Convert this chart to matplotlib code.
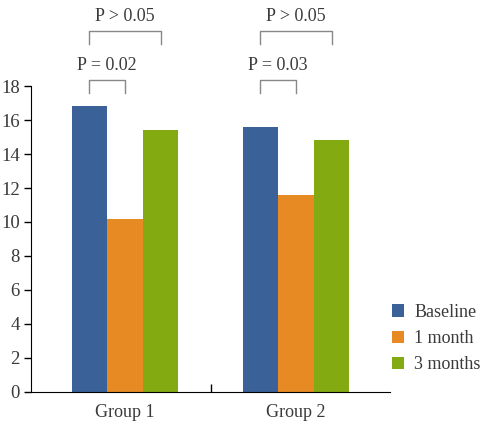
import matplotlib.pyplot as plt
import numpy as np

groups = ['Group 1', 'Group 2']
series = ['Baseline', '1 month', '3 months']
baseline = [16.8, 15.6]
one_month = [10.2, 11.6]
three_months = [15.4, 14.8]
colors = ['#3B6199', '#E88A23', '#84AA12']

# p-value brackets: (group, bar a, bar b, label, level)
brackets = [
    (0, 0, 1, 'P = 0.02', 0),
    (0, 0, 2, 'P > 0.05', 1),
    (1, 0, 1, 'P = 0.03', 0),
    (1, 0, 2, 'P > 0.05', 1),
]

plt.rcParams['font.family'] = ['Liberation Serif', 'DejaVu Serif']
txt = '#3a3a3a'

fig = plt.figure(figsize=(4.84, 4.26), dpi=100)
ax = fig.add_axes([0.064, 0.08, 0.742, 0.718])

x = np.arange(len(groups))
w = 0.208
vals = [baseline, one_month, three_months]
for i, (name, v, c) in enumerate(zip(series, vals, colors)):
    ax.bar(x + (i - 1) * w, v, w, color=c, label=name)

ax.set_ylim(0, 18)
ax.set_xlim(-0.55, 1.55)
ax.set_yticks(np.arange(0, 19, 2))
ax.tick_params(axis='y', direction='out', length=5, width=1, labelsize=13.5, labelcolor=txt, pad=3)
ax.set_xticks([0.5])
ax.set_xticklabels([''])
ax.tick_params(axis='x', which='major', direction='in', length=6, width=1)
ax.set_xticks(x, minor=True)
ax.set_xticklabels(groups, minor=True)
ax.tick_params(axis='x', which='minor', length=0, labelsize=13, labelcolor=txt, pad=9)
for s in ['top', 'right']:
    ax.spines[s].set_visible(False)

for g, a, b, label, lvl in brackets:
    xa = g + (a - 1) * w
    xb = g + (b - 1) * w
    y0 = 17.6 + lvl * 2.9
    y1 = y0 + 0.75
    ax.plot([xa, xa, xb, xb], [y0, y1, y1, y0], color='#888888', lw=1, clip_on=False)
    ax.text((xa + xb) / 2, y1 + 0.85, label, ha='center', va='center', fontsize=13,
            color=txt, clip_on=False)

ax.legend(loc='center left', bbox_to_anchor=(1.005, 0.175), frameon=False, fontsize=13,
          handlelength=0.65, handleheight=0.65, handletextpad=0.6, labelspacing=0.5,
          borderpad=0, borderaxespad=0, labelcolor=txt)

fig.savefig('out.png', dpi=100)
